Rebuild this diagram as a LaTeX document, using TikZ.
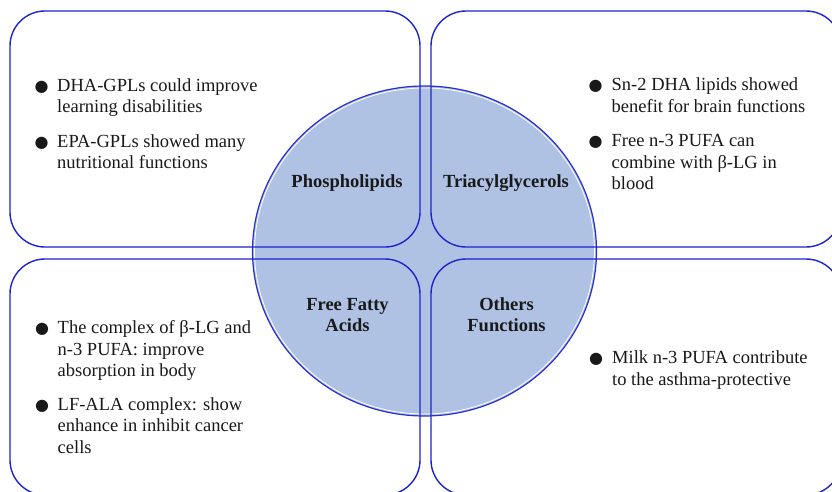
\documentclass[tikz,border=0pt]{standalone}
\usepackage{fontspec}
\setmainfont{Liberation Serif}
\newfontfamily\dotfont{DejaVu Sans}
\usepackage{xcolor}
\usetikzlibrary{shapes.geometric}

\definecolor{panelblue}{RGB}{28,36,204}
\definecolor{hubfill}{RGB}{176,194,228}
\definecolor{hubline}{RGB}{40,48,210}
\definecolor{inkgray}{RGB}{25,25,25}

\newcommand{\blt}{{\dotfont\fontsize{16}{16}\selectfont ●}}

\begin{document}
\begin{tikzpicture}[x=1pt, y=-1pt,
  panel/.style={rectangle, draw=panelblue, line width=1.4pt, rounded corners=35pt,
    minimum width=410pt, minimum height=236pt, inner sep=0pt, outer sep=0pt},
  note/.style={inner sep=0pt, text=inkgray, font=\fontsize{18.5}{21.5}\selectfont},
  topic/.style={inner sep=0pt, text=inkgray, font=\bfseries\fontsize{18.5}{21.5}\selectfont}]
\clip (0,0) rectangle (832,492);
% central disc
\node[ellipse, fill=hubfill, draw=hubline, line width=1.2pt, inner sep=0pt,
  minimum width=344pt, minimum height=330pt] (hub) at (424.5,251) {};
\node[ellipse, draw=white, line width=0.8pt, inner sep=0pt,
  minimum width=340pt, minimum height=326pt] (hubrim) at (hub.center) {};
% four panels
\begin{scope}[every node/.style={panel}]
    \node (tl) at (215,129) {};
    \node (tr) at (636,129) {};
    \node (bl) at (215,377) {};
    \node (br) at (636,377) {};
\end{scope}
% topics
\node[topic, anchor=base] (phos) at (347,187) {Phospholipids};
\node[topic, anchor=base] (tag) at (506,187) {Triacylglycerols};
\node[topic, anchor=base] (ffa) at (347.5,310)
  {\begin{tabular}[t]{@{}c@{}}Free Fatty\\Acids\end{tabular}};
\node[topic, anchor=base] (other) at (506.5,310)
  {\begin{tabular}[t]{@{}c@{}}Others\\Functions\end{tabular}};
% bullet notes
\node[note, anchor=base west] (tlnote) at (34.5,91.5)
  {\begin{tabular}[t]{@{}p{22.5pt}@{}l@{}}
    \blt & DHA-GPLs could improve\\
         & learning disabilities\\[13pt]
    \blt & EPA-GPLs showed many\\
         & nutritional functions
  \end{tabular}};
\node[note, anchor=base west] (trnote) at (588.5,91)
  {\begin{tabular}[t]{@{}p{23pt}@{}l@{}}
    \blt & Sn-2 DHA lipids showed\\
         & benefit for brain functions\\[13pt]
    \blt & Free n-3 PUFA can\\
         & combine with β-LG in\\
         & blood
  \end{tabular}};
\node[note, anchor=base west] (blnote) at (35,333.5)
  {\begin{tabular}[t]{@{}p{22.5pt}@{}l@{}}
    \blt & The complex of β-LG and\\
         & n-3 PUFA: improve\\
         & absorption in body\\[12pt]
    \blt & LF-ALA complex: show\\
         & enhance in inhibit cancer\\
         & cells
  \end{tabular}};
\node[note, anchor=base west] (brnote) at (589,363.5)
  {\begin{tabular}[t]{@{}p{23pt}@{}l@{}}
    \blt & Milk n-3 PUFA contribute\\
         & to the asthma-protective
  \end{tabular}};
\end{tikzpicture}
\end{document}
